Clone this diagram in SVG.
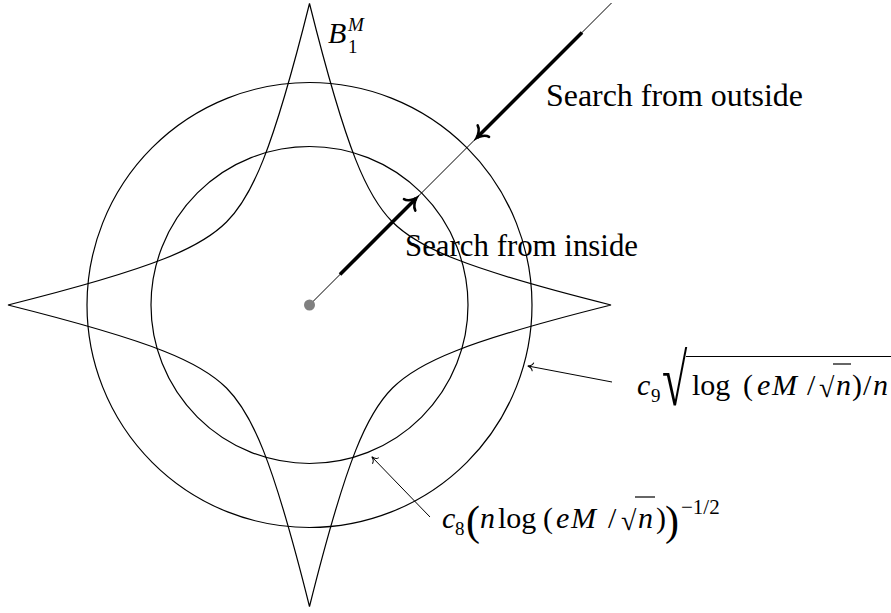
<svg xmlns="http://www.w3.org/2000/svg" width="891" height="613" viewBox="0 0 891 613">
<style>
.sh{fill:none;stroke:#000;stroke-width:1.2}
.t{font-family:"Liberation Serif","DejaVu Serif",serif;fill:#000}
.i{font-style:italic}
.thin{fill:none;stroke:#000;stroke-width:1}
.thick{fill:none;stroke:#000;stroke-width:3.6}
.bar{stroke:#000;stroke-width:1.2}
</style>
<defs>
<marker id="bigto" markerUnits="userSpaceOnUse" viewBox="-12 -12 16 24" markerWidth="16" markerHeight="24" refX="0" refY="0" orient="auto">
<path d="M -9,-8 C -8,-4 -2.5,-0.8 0.5,0 C -2.5,0.8 -8,4 -9,8" fill="none" stroke="#000" stroke-width="2.6" stroke-linecap="round"/>
</marker>
<marker id="smallto" markerUnits="userSpaceOnUse" viewBox="-8 -6 10 12" markerWidth="10" markerHeight="12" refX="0" refY="0" orient="auto">
<path d="M -5,-4 C -4.5,-2 -1.5,-0.4 0.3,0 C -1.5,0.4 -4.5,2 -5,4" fill="none" stroke="#000" stroke-width="1" stroke-linecap="round"/>
</marker>
</defs>

<g id="outer-circle"><circle class="sh" cx="309.5" cy="305" r="222.5"/></g>
<g id="inner-circle"><circle class="sh" cx="309.5" cy="305" r="158.5"/></g>
<g id="ball-B1M">
<path class="sh" d="M 309.5,3.5 C 347,153.5 367.5,197 392.5,222 C 417.5,247 461,267.5 611,305 C 461,342.5 417.5,363 392.5,388 C 367.5,413 347,456.5 309.5,606.5 C 272,456.5 251.5,413 226.5,388 C 201.5,363 158,342.5 8,305 C 158,267.5 201.5,247 226.5,222 C 251.5,197 272,153.5 309.5,3.5 Z"/>
</g>

<g id="connectors">
<line class="thin" x1="309.5" y1="305" x2="611.5" y2="3"/>
<line class="thick" x1="582" y1="32.5" x2="477" y2="137.5" marker-end="url(#bigto)"/>
<line class="thick" x1="340" y1="274.5" x2="416" y2="198.5" marker-end="url(#bigto)"/>
<line class="thin" x1="612" y1="382" x2="528" y2="366" marker-end="url(#smallto)"/>
<line class="thin" x1="430" y1="517" x2="372" y2="457" marker-end="url(#smallto)"/>
</g>

<g id="center-dot"><circle cx="309.5" cy="305" r="5.5" fill="#808080"/></g>

<g id="label-B1M">
<text class="t i" x="328" y="43" font-size="30">B</text>
<text class="t i" x="348" y="31" font-size="19">M</text>
<text class="t" x="348" y="53" font-size="19">1</text>
</g>

<g id="label-outside"><text class="t" x="546" y="106" font-size="31" textLength="257" lengthAdjust="spacingAndGlyphs">Search from outside</text></g>
<g id="label-inside"><text class="t" x="405" y="256" font-size="31" textLength="233" lengthAdjust="spacingAndGlyphs">Search from inside</text></g>

<g id="label-c9">
<text class="t i" x="637" y="395" font-size="30">c</text>
<text class="t" x="651" y="402" font-size="19">9</text>
<text class="t" font-size="46" transform="translate(662,405) scale(1,1.6)">√</text>
<line class="bar" x1="686" y1="356.5" x2="891" y2="356.5"/>
<text class="t" x="692" y="395" font-size="30">log</text>
<text class="t" x="743" y="395" font-size="30">(</text>
<text class="t i" x="757" y="395" font-size="30">e</text>
<text class="t i" x="772" y="395" font-size="30">M</text>
<text class="t" x="807" y="395" font-size="30">/</text>
<text class="t" x="819" y="397" font-size="28">√</text>
<line class="bar" x1="833" y1="364" x2="851" y2="364"/>
<text class="t i" x="836" y="395" font-size="30">n</text>
<text class="t" x="852" y="395" font-size="30">)</text>
<text class="t" x="863" y="395" font-size="30">/</text>
<text class="t i" x="873" y="395" font-size="30">n</text>
</g>

<g id="label-c8">
<text class="t i" x="442" y="528" font-size="30">c</text>
<text class="t" x="455" y="535" font-size="19">8</text>
<text class="t" x="466" y="535" font-size="42">(</text>
<text class="t i" x="480" y="528" font-size="30">n</text>
<text class="t" x="498" y="528" font-size="30">log</text>
<text class="t" x="543" y="528" font-size="30">(</text>
<text class="t i" x="556" y="528" font-size="30">e</text>
<text class="t i" x="571" y="528" font-size="30">M</text>
<text class="t" x="608" y="528" font-size="30">/</text>
<text class="t" x="621" y="530" font-size="28">√</text>
<line class="bar" x1="635" y1="497" x2="655" y2="497"/>
<text class="t i" x="638" y="528" font-size="30">n</text>
<text class="t" x="656" y="528" font-size="30">)</text>
<text class="t" x="665" y="535" font-size="42">)</text>
<text class="t" x="681" y="514" font-size="21">−1/2</text>
</g>
</svg>
